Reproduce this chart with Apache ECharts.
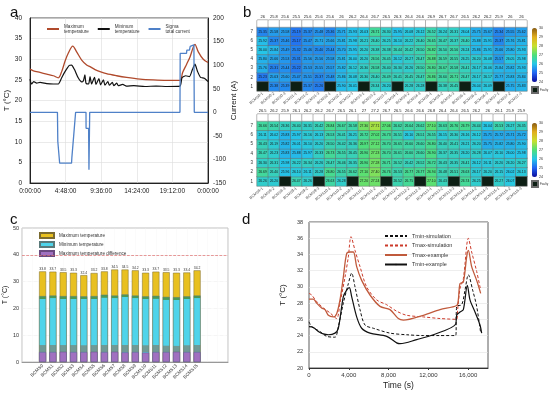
<!DOCTYPE html>
<html><head><meta charset="utf-8">
<script src="https://cdn.jsdelivr.net/npm/echarts@6/dist/echarts.min.js"></script>
<style>html,body{margin:0;padding:0;background:#fff}#c{width:550px;height:395px}</style>
</head><body><div id="c"></div>
<script>
// ---------- Panel a data (hours, value) ----------
const aMaxTemp = [[0,27.6],[0.45,27.2],[1.35,26.8],[2.25,26.4],[3.15,26.0],[3.82,25.5],[4.27,27.0],[4.72,29.5],[5.17,31.5],[5.76,33.2],[6.29,31.8],[6.97,29.8],[7.64,28.6],[8.09,28.2],[8.77,27.5],[9.44,27.0],[10.3,26.5],[11.68,26.0],[13.03,25.6],[14.83,25.2],[16.63,25.0],[18.42,24.9],[20.22,24.9],[20.58,26.8],[21.12,28.8],[21.56,30.5],[22.24,33.6],[22.69,31.8],[23.36,30.0],[24,29.2]];
const aMinTemp = [[0,25.2],[0.2,24.0],[0.5,24.6],[0.9,24.2],[1.35,24.4],[2.25,24.1],[3.15,24.0],[3.82,24.0],[4.27,25.5],[4.72,27.0],[5.3,28.5],[5.6,28.6],[6.0,27.5],[6.5,25.5],[6.97,24.5],[7.2,24.8],[7.4,26.2],[7.55,24.2],[7.9,24.0],[8.1,25.8],[8.3,24.0],[8.7,25.6],[8.9,23.9],[9.3,25.3],[9.5,23.8],[9.9,25.0],[10.1,23.7],[10.5,24.6],[10.7,23.7],[11.1,24.4],[11.3,23.6],[11.7,24.2],[11.9,23.6],[12.5,23.9],[13.0,23.5],[14,23.6],[15.5,23.4],[17,23.5],[18.5,23.4],[20.22,23.5],[20.5,25.5],[21.0,26.0],[21.5,25.8],[21.9,27.5],[22.24,28.8],[22.6,27.0],[23.0,25.6],[23.5,25.4],[24,24.6]];
const aCurrent = [[0,0],[3.7,0],[3.75,-62],[3.95,-62],[4.0,-108],[5.6,-108],[5.65,-95],[5.85,-95],[5.9,-48],[6.1,-48],[6.15,0],[7.55,0],[7.56,-34],[7.9,-34],[7.95,-122],[8.0,-122],[8.05,0],[20.22,0],[20.25,125],[21.1,125],[21.15,132],[21.5,132],[21.6,140],[22.1,143],[22.15,0],[24,0]];

// ---------- Panel b data ----------
const rowLabels = ['1','2','3','4','5','6','7'];
const topCols = ['BCMS0-1','BCMS0-2','BCMS0-3','BCMS1-1','BCMS1-2','BCMS1-3','BCMS2-1','BCMS2-2','BCMS2-3','BCMS3-1','BCMS3-2','BCMS3-3','BCMS4-1','BCMS4-2','BCMS4-3','BCMS5-1','BCMS5-2','BCMS5-3','BCMS6-1','BCMS6-2','BCMS6-3','BCMS7-1','BCMS7-2','BCMS7-3'];
const botCols = ['BCMS8-1','BCMS8-2','BCMS8-3','BCMS9-1','BCMS9-2','BCMS9-3','BCMS10-1','BCMS10-2','BCMS10-3','BCMS11-1','BCMS11-2','BCMS11-3','BCMS12-1','BCMS12-2','BCMS12-3','BCMS13-1','BCMS13-2','BCMS13-3','BCMS14-1','BCMS14-2','BCMS14-3','BCMS15-1','BCMS15-2','BCMS15-3'];
const topHeader = [26,25.8,25.6,25.5,25.6,25.6,25.6,26,26.2,26.4,26.7,26.5,26.3,26.4,26.6,26.9,26.7,26.7,26.5,26.2,26.2,25.9,26,26];
const botHeader = [26.5,26.2,25.9,26.1,26.2,26.2,26.7,26.5,26.1,27,27.2,26.7,26.5,26.6,26.6,26.8,26.4,26.4,26.5,26.2,26,26.1,25.9,25.9];
// rows 1..7 (bottom to top); null = faulty
const topRows = [
 [null,25.38,25.39,null,25.37,25.26,null,25.90,26.01,null,26.34,26.20,null,26.28,26.28,null,26.38,26.45,null,26.04,26.09,null,25.75,25.83],
 [25.23,25.63,25.60,25.47,25.51,25.37,25.48,25.86,26.08,26.30,26.40,26.49,26.41,26.45,26.47,26.86,26.60,26.71,26.47,26.17,26.17,25.77,25.83,25.84],
 [25.76,25.31,25.44,25.22,25.53,25.55,25.57,25.82,26.12,26.30,26.58,26.40,26.30,26.26,26.50,26.80,26.67,26.58,26.41,26.17,26.06,25.84,25.82,25.93],
 [25.80,25.66,25.53,25.31,25.56,25.56,25.58,25.81,26.00,26.20,26.56,26.45,26.12,26.27,26.47,26.88,26.59,26.55,26.25,26.20,26.08,25.57,26.05,25.98],
 [26.00,25.84,25.49,25.32,25.46,25.40,25.44,25.70,25.95,26.20,26.38,26.38,26.44,26.42,26.50,26.82,26.50,26.56,26.24,25.86,25.91,25.66,25.80,25.93],
 [25.92,25.37,25.46,25.17,25.47,25.71,25.66,25.81,25.98,26.21,26.40,26.25,26.10,26.22,26.40,26.65,26.47,26.37,26.40,25.88,25.91,25.37,25.76,25.81],
 [25.35,25.58,25.58,25.19,25.37,25.48,25.36,25.71,25.93,26.03,26.71,26.30,25.95,26.08,26.12,26.52,26.24,26.31,26.04,25.75,25.67,25.34,25.55,25.62]
];
const botRows = [
 [26.26,26.20,null,26.47,26.26,null,26.63,26.28,null,27.20,27.24,null,26.52,26.75,null,27.10,26.43,null,26.74,26.25,null,26.27,26.07,null],
 [26.69,26.40,25.96,26.10,26.11,26.28,26.80,26.55,26.62,27.10,27.40,26.76,26.53,26.77,26.77,26.94,26.48,26.51,26.63,26.17,26.20,26.15,26.02,26.13],
 [26.30,26.31,25.98,26.22,26.34,26.26,26.47,26.46,26.35,26.90,27.28,26.71,26.52,26.42,26.52,26.72,26.43,26.35,26.41,26.12,26.11,26.20,26.20,26.27],
 [26.47,26.23,25.83,25.88,25.97,26.33,26.73,26.55,26.45,26.90,27.23,26.70,26.61,26.60,26.60,26.90,26.37,26.35,26.20,26.28,26.07,26.10,26.00,25.98],
 [26.43,26.19,25.82,26.01,26.10,26.20,26.50,26.42,26.36,26.97,27.12,26.70,26.65,26.60,26.60,26.80,26.40,26.41,26.21,26.20,25.75,25.82,25.80,25.90],
 [26.11,26.02,25.83,25.97,26.16,26.13,26.53,26.41,26.21,26.72,27.02,26.73,26.51,26.10,26.51,26.55,26.15,26.30,26.16,26.12,25.71,25.72,25.71,25.72],
 [26.66,26.54,26.36,26.40,26.31,26.42,26.84,26.67,26.58,27.30,27.71,27.06,26.62,26.64,26.62,27.10,26.63,26.76,26.79,26.44,26.04,26.53,26.27,26.35]
];

// ---------- Panel c data ----------
const cCats = ['BCMS0','BCMS1','BCMS2','BCMS3','BCMS4','BCMS5','BCMS6','BCMS7','BCMS8','BCMS9','BCMS10','BCMS11','BCMS12','BCMS13','BCMS14','BCMS15'];
const cMax = [33.8,33.7,33.5,33.3,32.4,33.2,33.8,34.5,34.5,34.2,33.3,33.7,33.5,33.3,33.4,34.2];
const cMin = [24.6,24.8,24.6,24.6,24.5,24.6,25.1,24.8,25.2,24.8,24.5,24.7,24.3,24.2,24.5,24.8];
const cDiff = [3.7,3.7,3.8,3.7,3.7,3.8,3.7,3.8,3.6,3.7,3.5,3.7,3.7,3.8,3.7,3.7];

// ---------- Panel d data (s, °C) ----------
const dTminSim = [[0,25.7],[268,25.1],[1106,24.5],[1776,23.9],[2614,23.8],[2949,25.1],[3453,28.0],[3955,30.4],[4290,31.7],[4626,30.0],[5129,27.2],[5631,25.3],[6469,24.9],[8145,24.3],[9821,24.1],[11497,24.0],[13173,24.0],[14749,24.0],[14849,27.6],[15352,27.8],[15687,29.6],[16023,31.5],[16458,29.6],[16861,27.6],[17264,24.3]];
const dTmaxSim = [[0,29.2],[268,29.0],[771,28.2],[1441,27.4],[2111,26.8],[2782,26.1],[3117,28.0],[3620,31.2],[3955,33.7],[4223,36.2],[4626,34.5],[5129,32.5],[5799,30.0],[6804,28.4],[7810,27.8],[8815,27.0],[9821,26.5],[11497,26.3],[13173,26.1],[14849,26.0],[14950,27.2],[15184,29.8],[15520,31.0],[16023,36.0],[16358,34.3],[16861,31.9],[17264,29.6]];
const dTmaxEx = [[0,28.5],[437,28.5],[771,28.0],[1274,27.4],[1609,27.2],[1944,26.5],[2448,26.3],[2782,26.7],[3117,28.4],[3453,31.2],[3788,34.1],[4123,34.3],[4459,34.3],[4794,32.5],[5296,30.8],[6134,29.0],[7140,27.6],[8145,27.2],[8983,26.1],[9486,25.9],[11497,26.5],[13173,27.2],[14849,27.7],[15017,28.4],[15184,30.4],[15520,30.6],[15855,33.7],[16023,34.5],[16358,32.5],[16861,30.8],[17264,29.2]];
const dTminEx = [[0,25.1],[437,25.0],[938,24.5],[1441,24.2],[1944,24.1],[2614,24.3],[2949,24.9],[3453,28.8],[3788,29.6],[4056,29.9],[4290,28.8],[4794,26.3],[5296,24.9],[6134,24.3],[7810,23.9],[8815,23.1],[9151,23.0],[10827,23.5],[12503,24.1],[14749,25.4],[14849,26.5],[15184,26.9],[15520,27.2],[15922,30.2],[16190,28.4],[16693,26.9],[17196,25.3],[17364,24.3]];

// ---------- build ----------
function heatData(rows){const o=[];rows.forEach((r,y)=>r.forEach((v,x)=>{if(v!=null)o.push([x,y,v]);}));return o;}
function faultData(rows){const o=[];rows.forEach((r,y)=>r.forEach((v,x)=>{if(v==null)o.push([x,y,0]);}));return o;}
function hourLabel(h){let H=Math.floor(h+1e-6);let m=Math.round((h-H)*60);if(m===60){H++;m=0;}return (H%24)+':'+(m<10?'0':'')+m+':00';}
const FF='Liberation Sans, Arial, sans-serif';
const heatColors=['#0c0c9c','#2263f2','#25c6e8','#4fe07a','#c8e02e','#e2ae1e','#8a5c12'];
const gridLine={show:true,lineStyle:{color:'#dcdcdc',width:0.6}};
const hX=(cols,gi,show)=>({type:'category',gridIndex:gi,data:cols,axisTick:{show:false},axisLine:{show:false},splitLine:{show:false},
  axisLabel:{show:show,interval:0,rotate:40,fontSize:3.8,color:'#444',margin:2,fontFamily:FF}});
const hY=(gi)=>({type:'category',gridIndex:gi,data:rowLabels,axisTick:{show:false},axisLine:{show:false},axisLabel:{fontSize:4.5,color:'#333',margin:4}});
const hSeries=(rows,xi,yi)=>({type:'heatmap',xAxisIndex:xi,yAxisIndex:yi,data:heatData(rows),
  itemStyle:{borderColor:'#6a6a6a',borderWidth:0.5},label:{show:true,fontSize:3.4,color:'#1a1a1a',formatter:p=>p.value[2].toFixed(2)}});
const fSeries=(rows,xi,yi)=>({type:'heatmap',name:'Faulty',xAxisIndex:xi,yAxisIndex:yi,data:faultData(rows),
  itemStyle:{color:'#0d1f14',borderColor:'#6a6a6a',borderWidth:0.5},label:{show:false}});
const hdSeries=(vals,xi,yi)=>({type:'heatmap',xAxisIndex:xi,yAxisIndex:yi,data:vals.map((v,i)=>[i,0,v]),
  itemStyle:{color:'#ffffff',borderColor:'#8a8a8a',borderWidth:0.6,borderRadius:1},
  label:{show:true,position:'top',distance:1,fontSize:4,color:'#222',formatter:p=>String(p.value[2])}});

const option={
 animation:false,
 textStyle:{fontFamily:FF},
 title:[
  {text:'a',left:5,top:0,textStyle:{fontSize:15,fontWeight:'normal',color:'#111'}},
  {text:'b',left:238,top:0,textStyle:{fontSize:15,fontWeight:'normal',color:'#111'}},
  {text:'c',left:5,top:207,textStyle:{fontSize:15,fontWeight:'normal',color:'#111'}},
  {text:'d',left:237,top:207,textStyle:{fontSize:15,fontWeight:'normal',color:'#111'}}
 ],
 grid:[
  {left:30,top:18,width:178,height:165,show:true,borderColor:'#222',borderWidth:0.8},
  {left:257,top:27,width:270,height:64},
  {left:257,top:20,width:270,height:7},
  {left:257,top:121,width:270,height:65},
  {left:257,top:114,width:270,height:7},
  {left:532,top:28,width:5,height:54},
  {left:532,top:123,width:5,height:54},
  {left:22,top:228,width:206,height:134,show:true,borderColor:'#999',borderWidth:0.6},
  {left:309,top:222,width:179,height:146,show:true,borderColor:'#333',borderWidth:0.8}
 ],
 xAxis:[
  {type:'value',gridIndex:0,min:0,max:24,interval:4.8,axisLine:{lineStyle:{color:'#222'}},axisTick:{show:false},splitLine:gridLine,
   axisLabel:{fontSize:6.5,color:'#222',formatter:hourLabel,margin:5}},
  hX(topCols,1,true), hX(topCols,2,false), hX(botCols,3,true), hX(botCols,4,false),
  {type:'value',gridIndex:5,show:false,min:0,max:1},
  {type:'value',gridIndex:6,show:false,min:0,max:1},
  {type:'value',gridIndex:7,min:-2,max:18,interval:1,axisLine:{lineStyle:{color:'#999'}},axisTick:{show:false},
   splitLine:{show:true,lineStyle:{color:'#eeeeee',width:0.5,type:'dotted'}},
   axisLabel:{fontSize:4.6,color:'#333',rotate:45,interval:0,margin:3,formatter:v=>(v>=0&&v<cCats.length)?cCats[v]:''}},
  {type:'value',gridIndex:8,min:0,max:18000,interval:4000,axisLine:{lineStyle:{color:'#333'}},axisTick:{show:true,length:2,inside:false},splitLine:{show:false},
   axisLabel:{fontSize:6,color:'#333',showMaxLabel:false,margin:4,formatter:v=>v.toLocaleString('en-US')},
   name:'Time (s)',nameLocation:'middle',nameGap:13,nameTextStyle:{fontSize:8.5,color:'#222'}}
 ],
 yAxis:[
  {type:'value',gridIndex:0,min:0,max:40,interval:5,axisLine:{lineStyle:{color:'#222'}},axisTick:{show:false},splitLine:gridLine,
   axisLabel:{fontSize:6.5,color:'#222'},name:'T (°C)',nameLocation:'middle',nameGap:16,nameTextStyle:{fontSize:8,color:'#222'}},
  {type:'value',gridIndex:0,position:'right',min:-150,max:200,interval:50,axisLine:{show:true,lineStyle:{color:'#222'}},axisTick:{show:false},splitLine:{show:false},
   axisLabel:{fontSize:6.5,color:'#222',margin:5},name:'Current (A)',nameLocation:'middle',nameGap:19,nameTextStyle:{fontSize:8,color:'#222'}},
  hY(1),
  {type:'category',gridIndex:2,data:['h'],show:false},
  hY(3),
  {type:'category',gridIndex:4,data:['h'],show:false},
  {type:'value',gridIndex:5,min:24,max:30,interval:1,position:'right',axisLine:{show:false},axisTick:{show:false},splitLine:{show:false},axisLabel:{fontSize:3.6,color:'#333',margin:2}},
  {type:'value',gridIndex:6,min:24,max:30,interval:1,position:'right',axisLine:{show:false},axisTick:{show:false},splitLine:{show:false},axisLabel:{fontSize:3.6,color:'#333',margin:2}},
  {type:'value',gridIndex:7,min:0,max:50,interval:10,axisLine:{show:false},axisTick:{show:false},
   splitLine:{show:true,lineStyle:{color:'#e4e4e4',width:0.6,type:'dotted'}},
   axisLabel:{fontSize:5.5,color:'#333',margin:3},name:'T (°C)',nameLocation:'middle',nameGap:11,nameTextStyle:{fontSize:7,color:'#222'}},
  {type:'value',gridIndex:8,min:20,max:38,interval:2,axisLine:{show:false},axisTick:{show:false},
   splitLine:{show:true,lineStyle:{color:'#e2e2e2',width:0.6}},
   axisLabel:{fontSize:5.5,color:'#333',margin:6},name:'T (°C)',nameLocation:'middle',nameGap:22,nameTextStyle:{fontSize:8,color:'#222'}}
 ],
 visualMap:[
  {type:'continuous',min:24,max:30,seriesIndex:3,calculable:false,left:532,top:28,itemWidth:5,itemHeight:54,padding:0,text:null,showLabel:false,
   inRange:{color:heatColors},textStyle:{fontSize:1}},
  {type:'continuous',min:24,max:30,seriesIndex:6,calculable:false,left:532,top:123,itemWidth:5,itemHeight:54,padding:0,text:null,showLabel:false,
   inRange:{color:heatColors},textStyle:{fontSize:1}}
 ],
 legend:[
  {data:['Maximum temperature','Minimum temperature','Sigma total current'],left:46,top:24,itemWidth:12,itemHeight:2,itemGap:8,padding:0,
   formatter:n=>n.replace(' ','\n'),textStyle:{fontSize:4.6,color:'#333',lineHeight:5,align:'center'}},
  {data:['Faulty'],left:531,top:86,itemWidth:6,itemHeight:6,itemGap:1,padding:0,icon:'rect',textStyle:{fontSize:3,color:'#333',padding:[0,0,0,-3]}},
  {data:['Faulty'],left:531,top:180,itemWidth:6,itemHeight:6,itemGap:1,padding:0,icon:'rect',textStyle:{fontSize:3,color:'#333',padding:[0,0,0,-3]}},
  {data:['Maximum temperature ','Minimum temperature ','Maximum temperature difference'],orient:'vertical',left:39,top:232,itemWidth:14,itemHeight:5,itemGap:2,padding:0,icon:'rect',
   textStyle:{fontSize:4.6,color:'#333'}},
  {data:['Tmin-simulation','Tmax-simulation','Tmax-example','Tmin-example'],orient:'vertical',left:384,top:233,itemWidth:22,itemHeight:2,itemGap:3.5,padding:0,
   textStyle:{fontSize:5.5,color:'#333'}}
 ],
 series:[
  {name:'Maximum temperature',type:'line',xAxisIndex:0,yAxisIndex:0,data:aMaxTemp,symbol:'none',smooth:0.3,lineStyle:{color:'#b04a2c',width:1.3},itemStyle:{color:'#b04a2c'}},
  {name:'Minimum temperature',type:'line',xAxisIndex:0,yAxisIndex:0,data:aMinTemp,symbol:'none',smooth:0.2,lineStyle:{color:'#111',width:1.2},itemStyle:{color:'#111'}},
  {name:'Sigma total current',type:'line',xAxisIndex:0,yAxisIndex:1,data:aCurrent,symbol:'none',lineStyle:{color:'#4f81c8',width:1.3},itemStyle:{color:'#4f81c8'}},
  hSeries(topRows,1,2), fSeries(topRows,1,2), hdSeries(topHeader,2,3),
  hSeries(botRows,3,4), fSeries(botRows,3,4), hdSeries(botHeader,4,5),
  {name:'Maximum temperature ',type:'bar',xAxisIndex:7,yAxisIndex:8,data:cMax.map((v,i)=>[i,v]),barWidth:7,barGap:'-100%',
   itemStyle:{color:'#e8c020',borderColor:'#7a6a30',borderWidth:0.5},
   label:{show:true,position:'top',fontSize:3.4,color:'#333',distance:1},
   markLine:{silent:true,symbol:'none',label:{show:false},lineStyle:{color:'#e07070',type:'dashed',width:0.7},data:[{yAxis:40}]}},
  {name:'Minimum temperature ',type:'bar',xAxisIndex:7,yAxisIndex:8,data:cMin.map((v,i)=>[i,v]),barWidth:7,barGap:'-100%',
   itemStyle:{borderColor:'#5a7a7a',borderWidth:0.5,color:new echarts.graphic.LinearGradient(0,0,0,1,[
     {offset:0,color:'#4a9a58'},{offset:0.04,color:'#4a9a58'},{offset:0.045,color:'#4fd4ea'},{offset:0.745,color:'#4fd4ea'},
     {offset:0.75,color:'#6f9a96'},{offset:0.845,color:'#6f9a96'},{offset:0.85,color:'#4fd4ea'},{offset:1,color:'#4fd4ea'}])}},
  {name:'Maximum temperature difference',type:'bar',xAxisIndex:7,yAxisIndex:8,data:cDiff.map((v,i)=>[i,v]),barWidth:7,barGap:'-100%',
   itemStyle:{color:'#a070c0',borderColor:'#6a4a80',borderWidth:0.5}},
  {name:'Tmin-simulation',type:'line',xAxisIndex:8,yAxisIndex:9,data:dTminSim,symbol:'none',smooth:0.3,lineStyle:{color:'#111',width:1,type:[3,2]},itemStyle:{color:'#111'}},
  {name:'Tmax-simulation',type:'line',xAxisIndex:8,yAxisIndex:9,data:dTmaxSim,symbol:'none',smooth:0.3,lineStyle:{color:'#cc3a2a',width:1,type:[3,2]},itemStyle:{color:'#cc3a2a'}},
  {name:'Tmax-example',type:'line',xAxisIndex:8,yAxisIndex:9,data:dTmaxEx,symbol:'none',smooth:0.3,lineStyle:{color:'#c05a3c',width:1.3},itemStyle:{color:'#c05a3c'}},
  {name:'Tmin-example',type:'line',xAxisIndex:8,yAxisIndex:9,data:dTminEx,symbol:'none',smooth:0.3,lineStyle:{color:'#111',width:1.2},itemStyle:{color:'#111'}}
 ]
};
const chart=echarts.init(document.getElementById('c'),null,{renderer:'canvas'});
chart.setOption(option);
</script></body></html>
